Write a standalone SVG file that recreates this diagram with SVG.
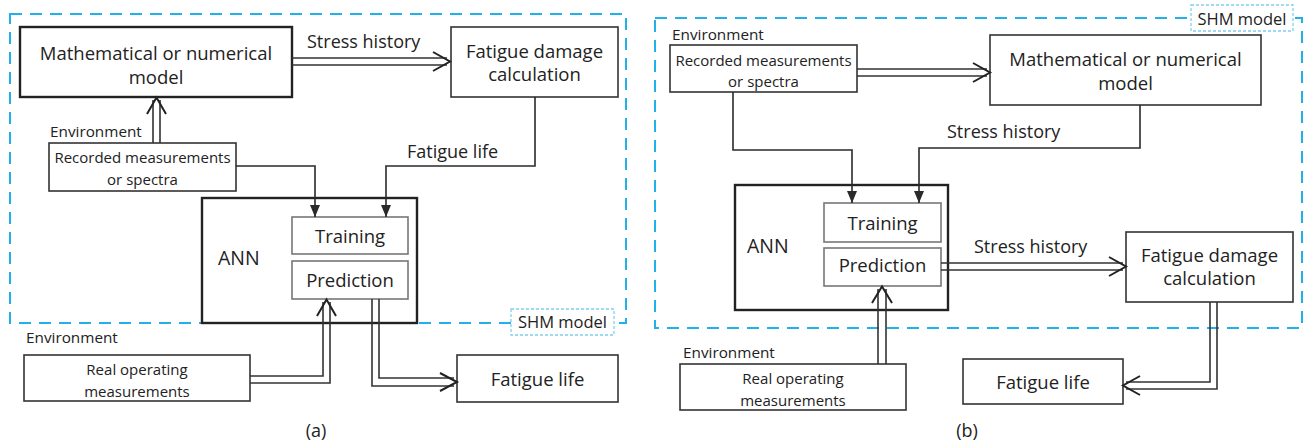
<svg xmlns="http://www.w3.org/2000/svg" width="1304" height="441" viewBox="0 0 1304 441">
<defs>
<marker id="tri" markerUnits="userSpaceOnUse" markerWidth="12" markerHeight="14" refX="12" refY="5" orient="auto" viewBox="0 0 12 10">
<path d="M0,0 L12,5 L0,10 Z" fill="#2a2a2a"/>
</marker>
</defs>
<style>
text{font-family:"Open Sans","Noto Sans","Liberation Sans",sans-serif;fill:#222;}
.t18{font-size:18.5px;text-anchor:middle;}
.t15{font-size:15px;text-anchor:middle;}
.lab{font-size:18px;}
.env{font-size:15.3px;}
.box{fill:#fff;stroke:#333;stroke-width:1.6;}
.thick{fill:#fff;stroke:#222;stroke-width:2.4;}
.sub{fill:#fff;stroke:#777;stroke-width:1.6;}
.region{fill:none;stroke:#22b0ea;stroke-width:2;stroke-dasharray:12 8;}
.tag{fill:#fff;stroke:#7fd0f0;stroke-width:1.3;stroke-dasharray:3 2;}
.ln{fill:none;stroke:#2a2a2a;stroke-width:1.6;}
.dl{fill:none;stroke:#333;stroke-width:1.6;}
.chev{fill:none;stroke:#222;stroke-width:2;stroke-linejoin:miter;}
</style>

<!-- Panel (a) -->
<rect class="region" x="10" y="14" width="616" height="309"/>
<g id="a_shm">
<rect class="tag" x="511" y="309" width="103" height="26"/>
<text x="562.5" y="328" style="font-size:16.5px;text-anchor:middle">SHM model</text>
</g>
<g id="a_math">
<rect class="thick" x="20" y="27" width="272" height="70"/>
<text class="t18" x="156" y="60">Mathematical or numerical</text>
<text class="t18" x="156" y="84">model</text>
</g>
<g id="a_fdc">
<rect class="box" x="451" y="27" width="167" height="70"/>
<text class="t18" x="534.5" y="58">Fatigue damage</text>
<text class="t18" x="534.5" y="81">calculation</text>
</g>
<g id="a_rec">
<text class="env" x="50" y="137">Environment</text>
<rect class="box" x="49" y="143" width="187" height="48"/>
<text class="t15" x="142.5" y="163">Recorded measurements</text>
<text class="t15" x="142.5" y="185">or spectra</text>
</g>
<g id="a_ann">
<rect class="thick" x="202" y="198" width="215" height="125"/>
<text x="218" y="265" style="font-size:19.5px">ANN</text>
</g>
<g id="a_train">
<rect class="sub" x="292" y="217" width="116" height="37"/>
<text class="t18" x="350" y="243">Training</text>
</g>
<g id="a_pred">
<rect class="sub" x="292" y="261" width="116" height="38"/>
<text class="t18" x="350" y="287">Prediction</text>
</g>
<g id="a_real">
<text class="env" x="26" y="343">Environment</text>
<rect class="box" x="24" y="355" width="226" height="46"/>
<text class="t15" x="137" y="375">Real operating</text>
<text class="t15" x="137" y="397">measurements</text>
</g>
<g id="a_life">
<rect class="box" x="457" y="355" width="161" height="47"/>
<text class="t18" x="537.5" y="386">Fatigue life</text>
</g>
<text x="316" y="437" style="font-size:18px;text-anchor:middle">(a)</text>

<!-- Panel (b) -->
<rect class="region" x="655" y="18" width="647" height="310"/>
<g id="b_shm">
<rect class="tag" x="1191" y="5" width="102" height="26"/>
<text x="1242" y="25" style="font-size:16.5px;text-anchor:middle">SHM model</text>
</g>
<g id="b_rec">
<text class="env" x="672" y="40">Environment</text>
<rect class="box" x="670" y="45" width="187" height="47"/>
<text class="t15" x="763.5" y="66">Recorded measurements</text>
<text class="t15" x="763.5" y="87">or spectra</text>
</g>
<g id="b_math">
<rect class="box" x="990" y="35" width="271" height="70"/>
<text class="t18" x="1125.5" y="66">Mathematical or numerical</text>
<text class="t18" x="1125.5" y="90">model</text>
</g>
<g id="b_ann">
<rect class="thick" x="735" y="185" width="213" height="125"/>
<text x="747" y="253" style="font-size:19.5px">ANN</text>
</g>
<g id="b_train">
<rect class="sub" x="824" y="203" width="117" height="39"/>
<text class="t18" x="882.5" y="230">Training</text>
</g>
<g id="b_pred">
<rect class="sub" x="824" y="248" width="117" height="38"/>
<text class="t18" x="882.5" y="272">Prediction</text>
</g>
<g id="b_fdc">
<rect class="box" x="1126" y="232" width="167" height="70"/>
<text class="t18" x="1209.5" y="262">Fatigue damage</text>
<text class="t18" x="1209.5" y="285">calculation</text>
</g>
<g id="b_life">
<rect class="box" x="963" y="359" width="160" height="45"/>
<text class="t18" x="1043" y="389">Fatigue life</text>
</g>
<g id="b_real">
<text class="env" x="683" y="358">Environment</text>
<rect class="box" x="680" y="364" width="226" height="46"/>
<text class="t15" x="793" y="384">Real operating</text>
<text class="t15" x="793" y="406">measurements</text>
</g>
<text x="967" y="437" style="font-size:18px;text-anchor:middle">(b)</text>

<g id="connectors">
<!-- (a) -->
<path class="dl" d="M292,58 H447 M292,65 H447"/>
<path class="chev" d="M433,52 L450,61.5 L433,71"/>
<text class="lab" x="307" y="48">Stress history</text>
<path class="dl" d="M153,143 V100 M160,143 V100"/>
<path class="chev" d="M147,114 L156.5,97.5 L166,114"/>
<path class="ln" d="M236,166 H315 V217" marker-end="url(#tri)"/>
<path class="ln" d="M535,97 V166 H386 V217" marker-end="url(#tri)"/>
<text class="lab" x="407" y="158">Fatigue life</text>
<path class="dl" d="M250,383 H330 V302 M250,376 H323 V302"/>
<path class="chev" d="M317,316 L326.5,299.5 L336,316"/>
<path class="dl" d="M372,299 V386 H454 M379,299 V378 H454"/>
<path class="chev" d="M440,373 L457,382 L440,391"/>
<!-- (b) -->
<path class="dl" d="M857,69 H987 M857,76 H987"/>
<path class="chev" d="M973,63 L990,72.5 L973,82"/>
<path class="ln" d="M733,92 V150 H852 V203" marker-end="url(#tri)"/>
<path class="ln" d="M1140,105 V148 H919 V203" marker-end="url(#tri)"/>
<text class="lab" x="947" y="138">Stress history</text>
<path class="dl" d="M941,263 H1123 M941,270 H1123"/>
<path class="chev" d="M1109,257 L1126,266.5 L1109,276"/>
<text class="lab" x="974" y="253">Stress history</text>
<path class="dl" d="M1217,302 V389 H1126 M1210,302 V382 H1126"/>
<path class="chev" d="M1140,376 L1123,385.5 L1140,395"/>
<path class="dl" d="M878,364 V289 M886,364 V289"/>
<path class="chev" d="M872,303 L882,286.5 L892,303"/>
</g>
</svg>
